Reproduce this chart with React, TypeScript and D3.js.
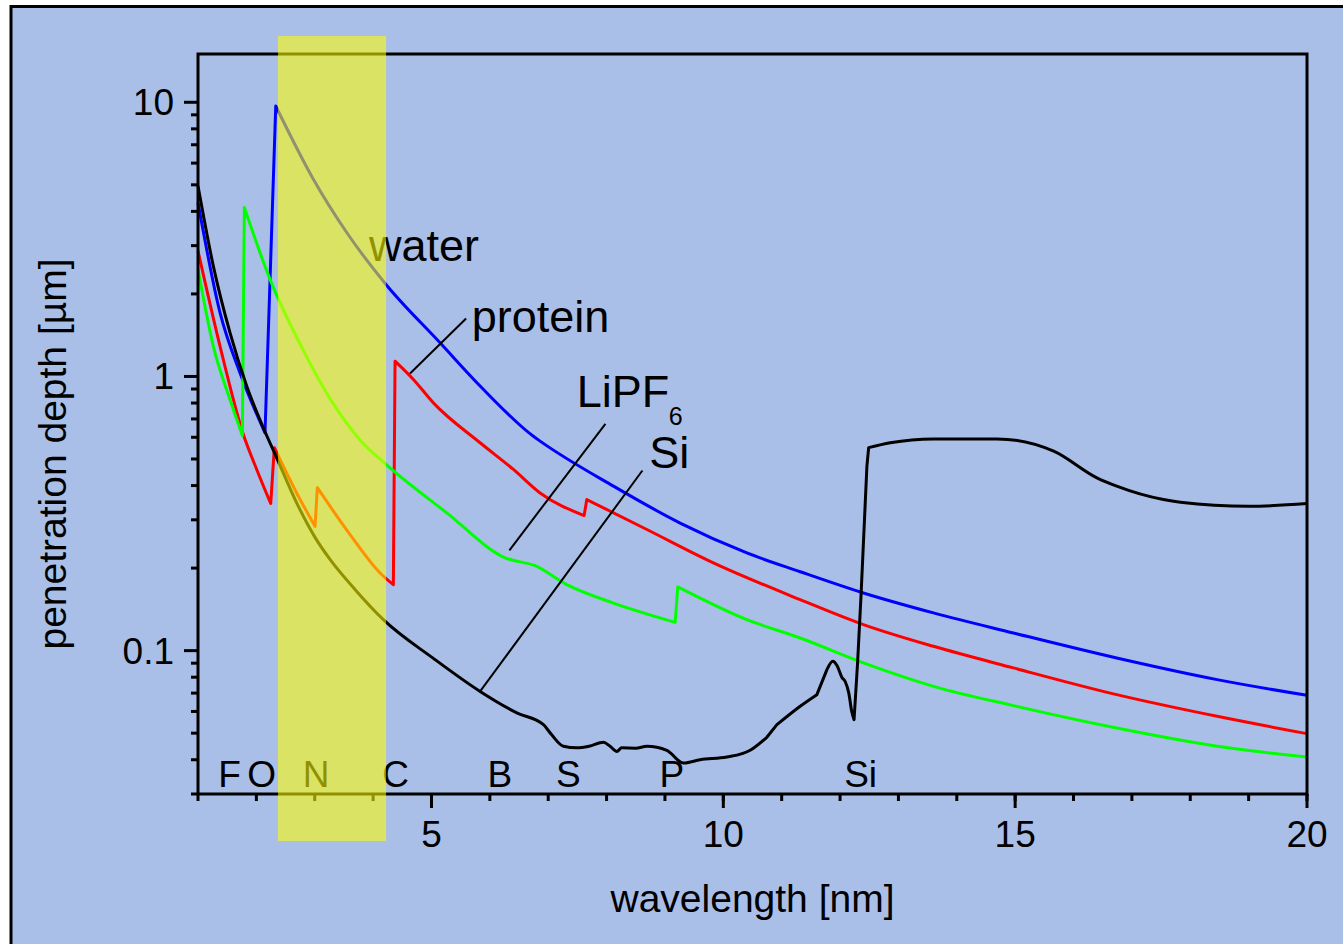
import React from 'react';
import * as d3 from 'd3';

const W = 1343;
const H = 944;
const BG = '#aabfe8';
const FONT = "'Liberation Sans', Arial, Helvetica, sans-serif";

const xDomain = [1, 20];
const yDomain = [0.03, 15];
const xMajorTicks = [5, 10, 15, 20];
const xMinorTicks = d3.range(1, 21);
const yMajorTicks = [0.1, 1, 10];
const yTickLabels = ['0.1', '1', '10'];

// water (blue)
const waterWl = [1.0, 1.377, 1.72, 2.148, 2.332, 2.976, 3.548, 4.217, 5.147, 5.833, 6.746, 6.861, 8.118, 9.26, 10.403, 11.317, 12.40, 13.60, 14.97, 16.74, 18.46, 20.0];
const waterDepth = [4.30, 1.71, 1.03, 0.623, 9.69, 5.24, 3.35, 2.17, 1.327, 0.923, 0.605, 0.581, 0.398, 0.292, 0.2273, 0.194, 0.1623, 0.1373, 0.116, 0.094, 0.0784, 0.0687];

// protein (red)
const proteinWl = [1.0, 1.377, 1.777, 2.006, 2.246, 2.308, 2.69, 3.005, 3.045, 3.605, 4.119, 4.347, 4.376, 4.69, 5.033, 5.833, 6.404, 6.861, 7.615, 7.661, 8.69, 9.83, 11.317, 12.40, 13.60, 14.97, 16.74, 18.46, 20.0];
const proteinDepth = [2.87, 1.29, 0.614, 0.458, 0.344, 0.55, 0.376, 0.284, 0.393, 0.265, 0.192, 0.174, 1.137, 0.975, 0.801, 0.573, 0.458, 0.376, 0.311, 0.3556, 0.2766, 0.209, 0.1535, 0.1245, 0.1037, 0.0865, 0.0691, 0.0576, 0.0498];

// LiPF6 (green)
const lipfWl = [1.0, 1.262, 1.548, 1.76, 1.794, 2.234, 2.80, 3.262, 3.776, 4.222, 5.262, 6.261, 6.775, 7.318, 8.118, 9.175, 9.22, 10.403, 11.317, 12.40, 13.60, 14.97, 16.74, 18.46, 20.0];
const lipfDepth = [2.46, 1.29, 0.824, 0.609, 4.13, 2.26, 1.25, 0.83, 0.587, 0.4775, 0.318, 0.218, 0.204, 0.174, 0.149, 0.1268, 0.1708, 0.1297, 0.1112, 0.0902, 0.0741, 0.063, 0.0522, 0.0448, 0.0409];

// Si (black)
const siWl = [1.0, 1.262, 1.548, 1.834, 2.119, 2.348, 2.69, 3.0, 3.262, 3.708, 4.176, 5.033, 5.833, 6.462, 6.918, 7.06, 7.26, 7.49, 7.70, 7.946, 8.06, 8.176, 8.26, 8.50, 8.69, 9.032, 9.317, 9.603, 10.06, 10.46, 10.746, 10.918, 11.317, 11.603, 11.775, 11.877, 11.95, 12.03, 12.09, 12.15, 12.2, 12.24, 12.30, 12.36, 12.46, 12.49, 12.86, 13.60, 14.687, 15.66, 16.4, 16.74, 17.54, 17.83, 19.0, 20.0];
const siDepth = [4.95, 2.53, 1.444, 0.923, 0.65, 0.505, 0.346, 0.26, 0.215, 0.1655, 0.1297, 0.0937, 0.071, 0.0593, 0.0537, 0.0493, 0.0448, 0.0442, 0.0448, 0.0463, 0.0448, 0.0429, 0.0442, 0.0441, 0.0448, 0.0433, 0.0389, 0.040, 0.0409, 0.0433, 0.0483, 0.0537, 0.0627, 0.0691, 0.0853, 0.0915, 0.088, 0.08, 0.077, 0.070, 0.06, 0.056, 0.09, 0.16, 0.47, 0.55, 0.573, 0.592, 0.592, 0.534, 0.4268, 0.398, 0.3556, 0.3477, 0.336, 0.344];

const seriesNames = ['water', 'protein', 'LiPF6', 'Si'];
const seriesColors = ['#0000ff', '#ff0000', '#00ff00', '#000000'];

// annotation labels (wavelength, depth at baseline)
const annoText = ['water', 'protein', 'LiPF', 'Si'];
const annoWl = [3.93, 5.69, 7.49, 8.73];
const annoDepth = [2.63, 1.447, 0.775, 0.4617];
// leader lines
const leaderFromWl = [5.593, 7.98, 8.614];
const leaderFromDepth = [1.628, 0.672, 0.454];
const leaderToWl = [4.633, 6.335, 5.833];
const leaderToDepth = [1.025, 0.2323, 0.071];

// element edge labels
const elementLabels = ['F', 'O', 'N', 'C', 'B', 'S', 'P', 'Si'];
const elementWl = [1.348, 1.845, 2.794, 4.158, 5.958, 7.135, 8.906, 12.07];

// highlighted band (wavelength)
const bandWl = [2.37, 4.222];

const L = 198, R = 1307, T = 54, B = 794;

const x = d3.scaleLinear().domain(xDomain).range([L, R]);
const y = d3.scaleLog().domain(yDomain).range([B, T]);

function buildPath(wl: number[], val: number[]): string {
  const segs: number[][] = [[0]];
  for (let i = 1; i < wl.length; i++) {
    const ratio = val[i] / val[i - 1];
    const gap = wl[i] - wl[i - 1];
    if ((ratio > 1.1 && gap < 0.2) || ratio > 1.5) segs.push([i]);
    else segs[segs.length - 1].push(i);
  }
  const line = d3.line<[number, number]>().curve(d3.curveMonotoneX);
  let path = '';
  segs.forEach((seg) => {
    const pts = seg.map((i) => [x(wl[i]), y(val[i])] as [number, number]);
    if (pts.length === 1) {
      path += (path ? 'L' : 'M') + pts[0][0] + ',' + pts[0][1];
    } else {
      const d = line(pts) || '';
      path += path ? 'L' + d.slice(1) : d;
    }
  });
  return path;
}

const yMinorTicks: number[] = [];
for (let e = -2; e <= 1; e++) {
  for (let k = 2; k <= 9; k++) {
    const v = k * Math.pow(10, e);
    if (v >= yDomain[0] - 1e-9 && v <= yDomain[1]) yMinorTicks.push(v);
  }
}

export default function App() {
  const paths = [
    buildPath(waterWl, waterDepth),
    buildPath(proteinWl, proteinDepth),
    buildPath(lipfWl, lipfDepth),
    buildPath(siWl, siDepth),
  ];
  const order = [0, 1, 2, 3];
  return (
    <svg width={W} height={H} style={{ position: 'absolute', left: 0, top: 0 }} fontFamily={FONT}>
      <rect x={11} y={6.5} width={1500} height={1100} fill={BG} stroke="#000" strokeWidth={3} />
      {order.map((i) => (
        <path key={seriesNames[i]} d={paths[i]} fill="none" stroke={seriesColors[i]} strokeWidth={3} strokeLinejoin="round" />
      ))}
      {leaderFromWl.map((w, i) => (
        <line key={'ld' + i} x1={x(w)} y1={y(leaderFromDepth[i])} x2={x(leaderToWl[i])} y2={y(leaderToDepth[i])} stroke="#000" strokeWidth={2} />
      ))}
      {annoText.map((t, i) => (
        <text key={'an' + i} x={x(annoWl[i])} y={y(annoDepth[i])} fontSize={45} fill="#000">
          {t}
        </text>
      ))}
      <text x={x(annoWl[2]) + 92} y={y(annoDepth[2]) + 18} fontSize={25} fill="#000">6</text>
      {/* frame */}
      <rect x={L} y={T} width={R - L} height={B - T} fill="none" stroke="#000" strokeWidth={3} />
      {/* x ticks */}
      {xMinorTicks.map((v) => (
        <line key={'xm' + v} x1={x(v)} x2={x(v)} y1={B} y2={B + 7} stroke="#000" strokeWidth={3} />
      ))}
      {xMajorTicks.map((v) => (
        <g key={'xM' + v}>
          <line x1={x(v)} x2={x(v)} y1={B} y2={B + 14} stroke="#000" strokeWidth={3} />
          <text x={x(v)} y={B + 53} fontSize={37} textAnchor="middle" fill="#000">{v}</text>
        </g>
      ))}
      {/* y ticks */}
      {yMinorTicks.map((v) => (
        <line key={'ym' + v} x1={L - 7} x2={L} y1={y(v)} y2={y(v)} stroke="#000" strokeWidth={3} />
      ))}
      {yMajorTicks.map((v, i) => (
        <g key={'yM' + v}>
          <line x1={L - 14} x2={L} y1={y(v)} y2={y(v)} stroke="#000" strokeWidth={3} />
          <text x={L - 24} y={y(v) + 13} fontSize={37} textAnchor="end" fill="#000">{yTickLabels[i]}</text>
        </g>
      ))}
      {/* element labels */}
      {elementLabels.map((t, i) => (
        <text key={'el' + t} x={x(elementWl[i])} y={B - 7} fontSize={37} fill="#000">{t}</text>
      ))}
      {/* axis titles */}
      <text x={(L + R) / 2} y={912} fontSize={39} textAnchor="middle" fill="#000">wavelength [nm]</text>
      <text transform={`translate(66,454) rotate(-90)`} fontSize={39} textAnchor="middle" fill="#000">penetration depth [µm]</text>
      {/* highlight band */}
      <rect x={x(bandWl[0])} y={T - 18} width={x(bandWl[1]) - x(bandWl[0])} height={B - T + 65} fill="#ffff00" fillOpacity={0.57} />
    </svg>
  );
}
